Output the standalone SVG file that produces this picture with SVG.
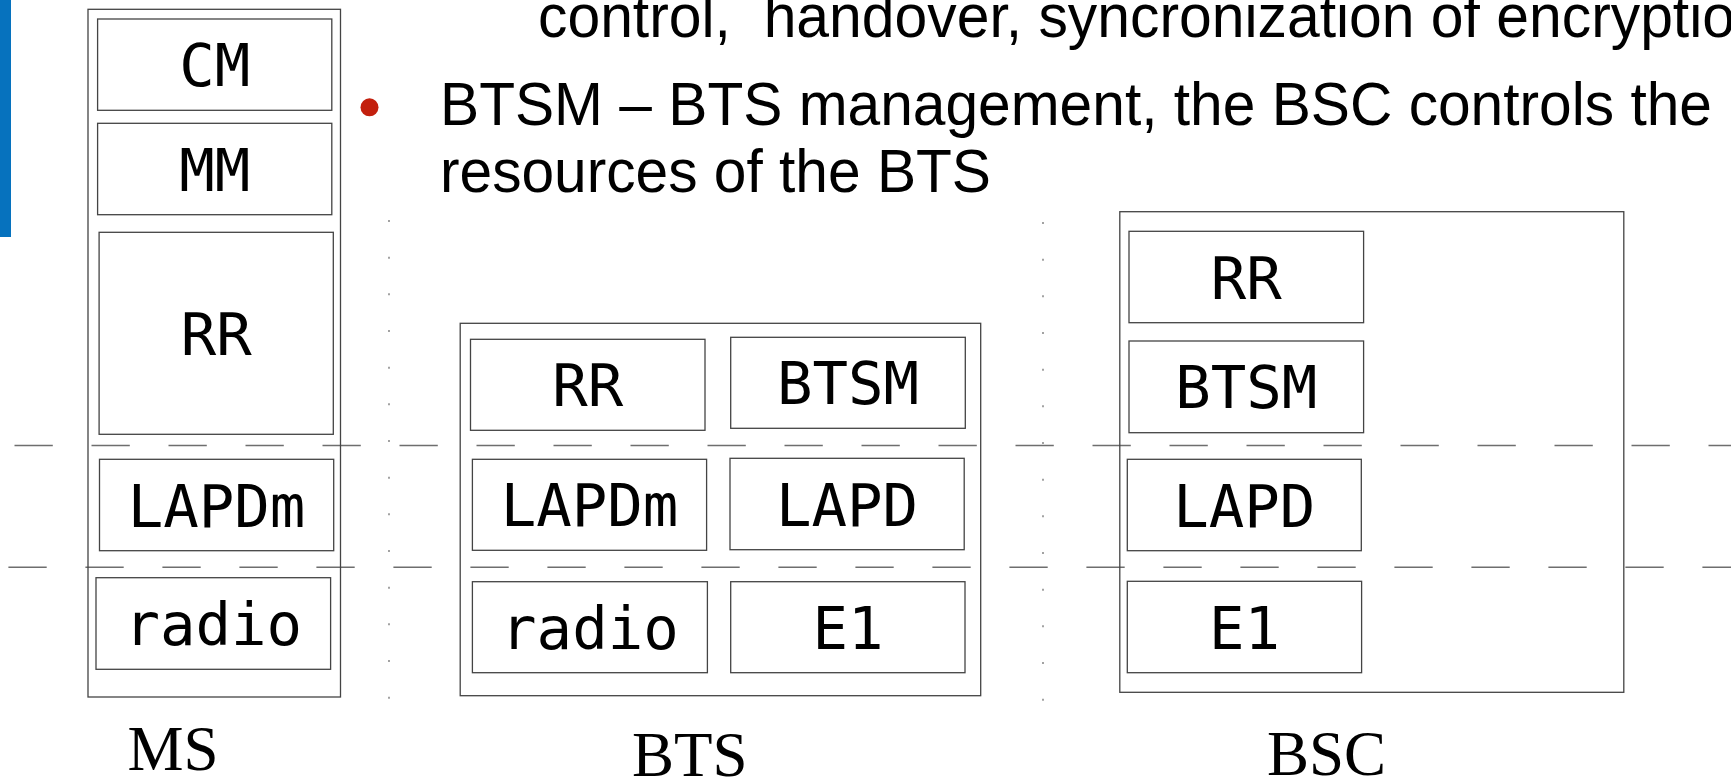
<svg xmlns="http://www.w3.org/2000/svg" width="1731" height="778" viewBox="0 0 1731 778">
<style>
.box{fill:none;stroke:#444;stroke-width:1.3}
.outer{fill:none;stroke:#444;stroke-width:1.3}
.lbl{font-family:"DejaVu Sans Mono",monospace;font-size:59px;fill:#000;text-anchor:middle}
.cap{font-family:"Liberation Serif","Times New Roman",serif;font-size:63px;fill:#000}
.body{font-family:"Liberation Sans",Arial,sans-serif;font-size:62px;fill:#000}
.dash{stroke:#6e6e6e;stroke-width:1.4;stroke-dasharray:38.3 38.7;fill:none}
.dot{stroke:#666;stroke-width:1.2;stroke-dasharray:2 34.67;fill:none}
</style>
<rect width="1731" height="778" fill="#fff"/>
<rect x="0" y="0" width="11" height="237" fill="#0672BE"/>
<g id="slide-text">
<text class="body" x="538" y="36.7" textLength="1197" lengthAdjust="spacingAndGlyphs" xml:space="preserve">control,  handover, syncronization of encryptio</text>
<circle cx="369.5" cy="107.3" r="9" fill="#C3200E"/>
<text class="body" x="440" y="125" textLength="1272" lengthAdjust="spacingAndGlyphs">BTSM – BTS management, the BSC controls the</text>
<text class="body" x="440" y="191.7" textLength="551" lengthAdjust="spacingAndGlyphs">resources of the BTS</text>
</g>
<g id="guides">
<line class="dot" x1="389" y1="220" x2="389" y2="700"/>
<line class="dot" x1="1043" y1="222" x2="1043" y2="702"/>
<line class="dash" x1="14.5" y1="445.5" x2="1731" y2="445.5"/>
<line class="dash" x1="8.4" y1="567.3" x2="1731" y2="567.3"/>
</g>
<g id="MS">
<rect class="outer" x="88" y="9.3" width="252.5" height="687.7"/>
<g id="ms-cm"><rect class="box" x="97.6" y="19" width="234.2" height="91.3"/><text class="lbl" x="214.7" y="86">CM</text></g>
<g id="ms-mm"><rect class="box" x="97.6" y="123.3" width="234.2" height="91.4"/><text class="lbl" x="214.7" y="190.5">MM</text></g>
<g id="ms-rr"><rect class="box" x="99.1" y="232.3" width="234.2" height="202"/><text class="lbl" x="216.2" y="354.8">RR</text></g>
<g id="ms-lapdm"><rect class="box" x="99.5" y="459.3" width="234.2" height="91.4"/><text class="lbl" x="216.6" y="526.5">LAPDm</text></g>
<g id="ms-radio"><rect class="box" x="96" y="577.7" width="234.6" height="91.6"/><text class="lbl" x="213.3" y="645">radio</text></g>
<text class="cap" x="127.5" y="770">MS</text>
</g>
<g id="BTS">
<rect class="outer" x="460.2" y="323.3" width="520.5" height="372.4"/>
<g id="bts-rr"><rect class="box" x="470.5" y="339.3" width="234.5" height="91"/><text class="lbl" x="587.8" y="406.3">RR</text></g>
<g id="bts-btsm"><rect class="box" x="730.7" y="337.3" width="234.6" height="91"/><text class="lbl" x="848" y="404.3">BTSM</text></g>
<g id="bts-lapdm"><rect class="box" x="472.4" y="459.3" width="234.2" height="91"/><text class="lbl" x="589.5" y="526.3">LAPDm</text></g>
<g id="bts-lapd"><rect class="box" x="730" y="458.3" width="234.2" height="91.4"/><text class="lbl" x="847.1" y="525.5">LAPD</text></g>
<g id="bts-radio"><rect class="box" x="472.4" y="581.7" width="235" height="91"/><text class="lbl" x="589.9" y="648.7">radio</text></g>
<g id="bts-e1"><rect class="box" x="730.7" y="581.7" width="234.3" height="91"/><text class="lbl" x="847.9" y="648.7">E1</text></g>
<text class="cap" x="632" y="776">BTS</text>
</g>
<g id="BSC">
<rect class="outer" x="1119.8" y="211.7" width="504" height="480.6"/>
<g id="bsc-rr"><rect class="box" x="1129" y="231.3" width="234.6" height="91.4"/><text class="lbl" x="1246.3" y="298.5">RR</text></g>
<g id="bsc-btsm"><rect class="box" x="1129" y="341" width="234.6" height="91.7"/><text class="lbl" x="1246.3" y="408.3">BTSM</text></g>
<g id="bsc-lapd"><rect class="box" x="1127.3" y="459.3" width="234" height="91.4"/><text class="lbl" x="1244.3" y="526.5">LAPD</text></g>
<g id="bsc-e1"><rect class="box" x="1127.3" y="581.3" width="234.3" height="91.4"/><text class="lbl" x="1244.5" y="648.5">E1</text></g>
<text class="cap" x="1267" y="775">BSC</text>
</g>
</svg>
